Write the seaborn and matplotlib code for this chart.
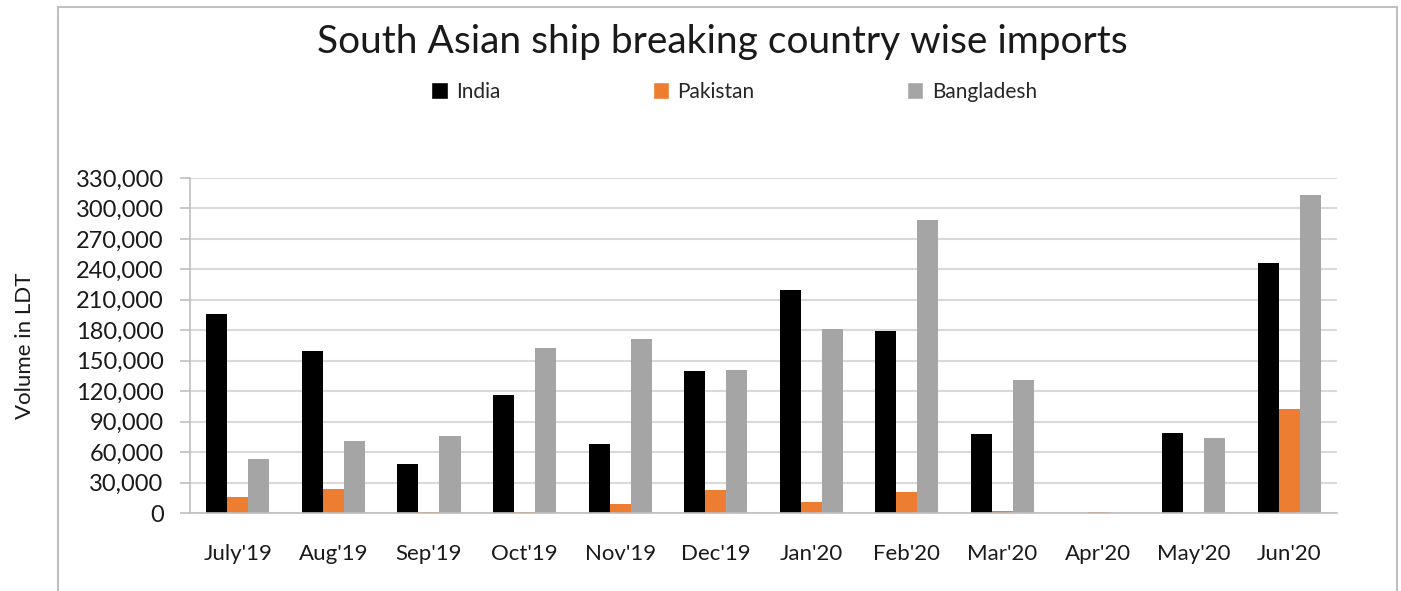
import numpy as np
import pandas as pd
import matplotlib
matplotlib.use("Agg")
import matplotlib.pyplot as plt
from matplotlib.patches import Rectangle
from matplotlib.ticker import FuncFormatter
import seaborn as sns

months = ["July'19", "Aug'19", "Sep'19", "Oct'19", "Nov'19", "Dec'19",
          "Jan'20", "Feb'20", "Mar'20", "Apr'20", "May'20", "Jun'20"]
india = [196000, 160000, 48000, 116000, 68000, 140000, 220000, 179000, 78000, 0, 79000, 246000]
pakistan = [16000, 24000, 1000, 1000, 9000, 23000, 11000, 21000, 1500, 1000, 0, 102000]
bangladesh = [53000, 71000, 76000, 162500, 171000, 141000, 181000, 289000, 131000, 0, 74000, 313000]
countries = ["India", "Pakistan", "Bangladesh"]
colors = ["#000000", "#ED7D31", "#A5A5A5"]

df = pd.DataFrame({
    "Month": months * 3,
    "Country": ["India"] * 12 + ["Pakistan"] * 12 + ["Bangladesh"] * 12,
    "Value": india + pakistan + bangladesh,
})

sns.set_theme(style="white")
plt.rcParams["font.family"] = ["Lato", "DejaVu Sans"]

fig = plt.figure(figsize=(14.01, 5.91), dpi=100)
ax = fig.add_axes([190 / 1401, 1 - 513 / 591, (1337 - 190) / 1401, (513 - 178) / 591])

sns.barplot(data=df, x="Month", y="Value", hue="Country", hue_order=countries,
            palette=colors, order=months, width=0.66, gap=0, ax=ax,
            saturation=1, legend=False, errorbar=None, linewidth=0)

ax.set_ylim(0, 330000)
ax.set_xlim(-0.5, 11.5)
ax.set_yticks(np.arange(0, 330001, 30000))
ax.yaxis.set_major_formatter(FuncFormatter(lambda v, p: f"{int(v):,}"))
ax.grid(axis="y", color="#D9D9D9", linewidth=1.5, zorder=0)
ax.set_axisbelow(True)
for s in ["top", "right"]:
    ax.spines[s].set_visible(False)
for s in ["left", "bottom"]:
    ax.spines[s].set_color("#BFBFBF")
    ax.spines[s].set_linewidth(1.2)

ax.set_xticks(np.arange(-0.5, 12, 1), minor=True)
ax.tick_params(axis="x", which="major", length=0, pad=22, labelsize=16, labelcolor="#1a1a1a")
ax.tick_params(axis="x", which="minor", length=8, color="#BFBFBF", width=1.2, direction="out")
ax.tick_params(axis="y", which="major", length=7, color="#BFBFBF", width=1.2, direction="out",
               left=True, labelsize=17, labelcolor="#1a1a1a", pad=12)
ax.set_xlabel("")
ax.set_ylabel("Volume in LDT", fontsize=16, color="#1a1a1a")
ax.yaxis.set_label_coords(-155 / 1147, 0.5)

fig.text(722 / 1401, 1 - 42 / 591, "South Asian ship breaking country wise imports",
         ha="center", va="center", fontsize=28, color="#1a1a1a")

handles = [Rectangle((0, 0), 1, 1, facecolor=c) for c in colors]
fig.legend(handles, countries, loc="center", bbox_to_anchor=(734 / 1401, 1 - 92 / 591),
           ncol=3, frameon=False, fontsize=15, handlelength=0.8, handleheight=0.9,
           handletextpad=0.4, columnspacing=7.3)

fig.patches.append(Rectangle((58 / 1401, -0.05), (1397 - 58) / 1401, 1.05 - 7 / 591,
                             transform=fig.transFigure, fill=False,
                             edgecolor="#BFBFBF", linewidth=1.5))

fig.savefig("out.png", dpi=100)
